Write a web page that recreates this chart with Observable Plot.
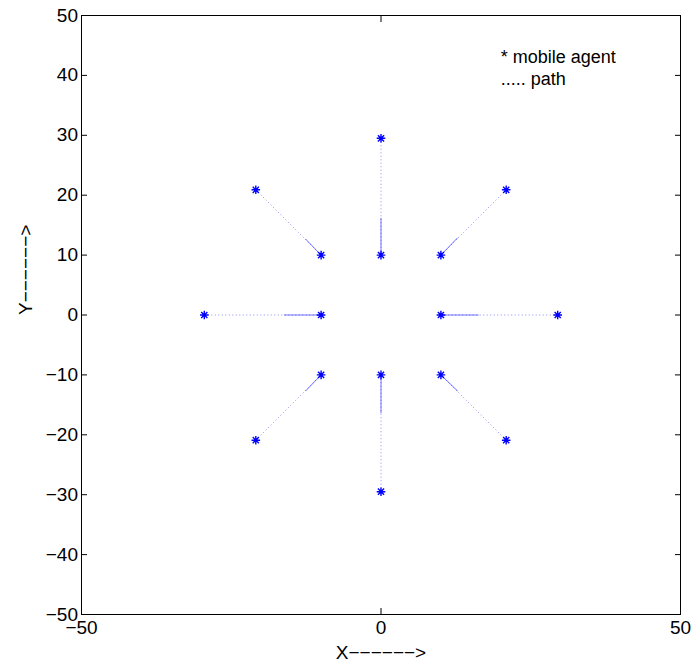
<!DOCTYPE html>
<html>
<head>
<meta charset="utf-8">
<script src="https://cdn.jsdelivr.net/npm/d3@7"></script>
<script src="https://cdn.jsdelivr.net/npm/@observablehq/plot@0.6"></script>
<style>
  html, body { margin: 0; padding: 0; background: #fff; }
  #chart svg { display: block; }
</style>
</head>
<body>
<div id="chart"></div>
<script>
// Agent start (outer) positions
const outerX = [29.5, 20.9, 0, -20.9, -29.5, -20.9, 0, 20.9];
const outerY = [0, 20.9, 29.5, 20.9, 0, -20.9, -29.5, -20.9];
// Agent final (inner) positions
const innerX = [10, 10, 0, -10, -10, -10, 0, 10];
const innerY = [0, 10, 10, 10, 0, -10, -10, -10];
// End of the densely sampled part of each path (near inner position)
const denseX = [16.3, 12.8, 0, -12.6, -16.2, -12.6, 0, 12.8];
const denseY = [0, 12.9, 16.2, 12.7, 0, -12.7, -16.4, -12.7];

const xTicks = [-50, 0, 50];
const yTicks = [-50, -40, -30, -20, -10, 0, 10, 20, 30, 40, 50];

const legendLines = ["* mobile agent", "..... path"];
const legendX = [20, 20];
const legendY = [43, 39.3];

const xLabel = "X\u2212\u2212\u2212\u2212\u2212\u2212>";
const yLabel = "Y\u2212\u2212\u2212\u2212\u2212\u2212>";

const idx = d3.range(outerX.length);
const agents = idx.map(i => ({x: outerX[i], y: outerY[i]}))
  .concat(idx.map(i => ({x: innerX[i], y: innerY[i]})));

// MATLAB-style "*" marker: plus + cross
const star = {
  draw(context, size) {
    const r = Math.sqrt(size / Math.PI);
    const d = r * 0.72;
    context.moveTo(-r, 0); context.lineTo(r, 0);
    context.moveTo(0, -r); context.lineTo(0, r);
    context.moveTo(-d, -d); context.lineTo(d, d);
    context.moveTo(-d, d); context.lineTo(d, -d);
  }
};

const blue = "#0000ff";

const plot = Plot.plot({
  width: 694,
  height: 665,
  marginLeft: 81,
  marginRight: 14,
  marginTop: 15,
  marginBottom: 51,
  style: {fontFamily: "'Liberation Sans', Arial, Helvetica, sans-serif", background: "#fff", color: "#000"},
  x: {domain: [-50, 50]},
  y: {domain: [-50, 50]},
  marks: [
    Plot.frame({stroke: "#000", strokeWidth: 1}),
    Plot.axisX({anchor: "bottom", ticks: xTicks, tickSize: -6, tickPadding: 12, fontSize: 19, label: null}),
    Plot.axisX({anchor: "top", ticks: xTicks, tickSize: -6, tickFormat: () => "", label: null}),
    Plot.axisY({anchor: "left", ticks: yTicks, tickSize: -6, tickPadding: 9.5, fontSize: 19, label: null}),
    Plot.axisY({anchor: "right", ticks: yTicks, tickSize: -6, tickFormat: () => "", label: null}),
    Plot.link(idx, {
      x1: i => outerX[i], y1: i => outerY[i],
      x2: i => innerX[i], y2: i => innerY[i],
      stroke: blue, strokeOpacity: 0.5, strokeWidth: 0.9, strokeDasharray: "1,2.5"
    }),
    Plot.link(idx, {
      x1: i => denseX[i], y1: i => denseY[i],
      x2: i => innerX[i], y2: i => innerY[i],
      stroke: blue, strokeOpacity: 0.6, strokeWidth: 0.9
    }),
    Plot.dot(agents, {x: "x", y: "y", symbol: star, r: 4.3, stroke: blue, strokeWidth: 1.4}),
    Plot.text(legendLines, {
      x: (d, i) => legendX[i], y: (d, i) => legendY[i], text: d => d,
      textAnchor: "start", lineAnchor: "middle", fontSize: 18, fill: "#000"
    }),
    Plot.text([xLabel], {frameAnchor: "bottom", text: d => d, dy: 38, lineAnchor: "middle", fontSize: 19, fill: "#000"}),
    Plot.text([yLabel], {frameAnchor: "left", text: d => d, dx: -56, rotate: -90, lineAnchor: "middle", fontSize: 19, fill: "#000"})
  ]
});
document.getElementById("chart").appendChild(plot);
</script>
</body>
</html>
